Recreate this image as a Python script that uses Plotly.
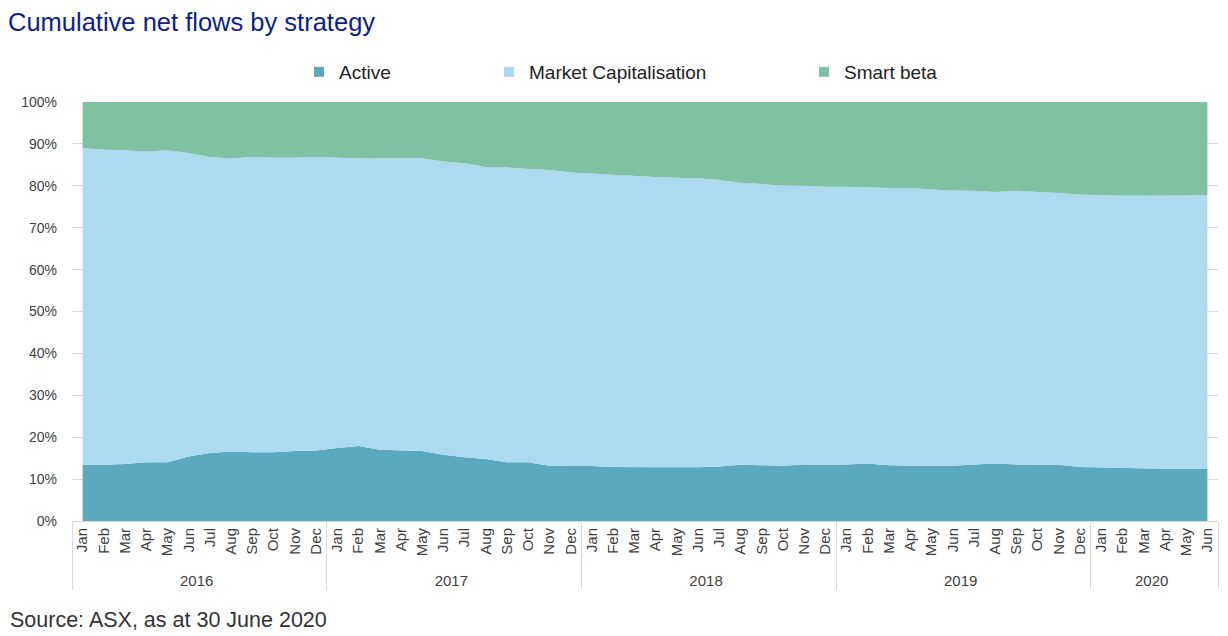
import plotly.graph_objects as go

TITLE = "Cumulative net flows by strategy"
SOURCE = "Source: ASX, as at 30 June 2020"

YEARS = ["2016", "2017", "2018", "2019", "2020"]
MONTHS = ["Jan", "Feb", "Mar", "Apr", "May", "Jun", "Jul", "Aug", "Sep", "Oct", "Nov", "Dec"]
MONTHS_PER_YEAR = [12, 12, 12, 12, 6]

# share of cumulative net flows, %
active = [13.4, 13.4, 13.6, 14.0, 14.0, 15.4, 16.2, 16.6, 16.4, 16.4, 16.7, 16.8,
          17.4, 17.9, 17.0, 16.8, 16.7, 15.8, 15.2, 14.8, 14.0, 14.0, 13.2, 13.1,
          13.1, 12.9, 12.8, 12.8, 12.8, 12.8, 13.0, 13.4, 13.3, 13.2, 13.5, 13.5,
          13.5, 13.7, 13.3, 13.2, 13.2, 13.2, 13.5, 13.7, 13.5, 13.5, 13.4, 12.9,
          12.8, 12.6, 12.5, 12.5, 12.5, 12.5]
market_cap = [75.6, 75.2, 74.9, 74.2, 74.5, 72.4, 70.7, 69.9, 70.5, 70.3, 70.0, 70.1,
              69.3, 68.6, 69.6, 69.8, 69.9, 70.0, 70.2, 69.7, 70.4, 70.0, 70.6, 70.1,
              69.8, 69.7, 69.5, 69.3, 69.1, 69.0, 68.4, 67.3, 67.1, 66.9, 66.5, 66.3,
              66.3, 65.9, 66.2, 66.3, 65.9, 65.7, 65.3, 64.8, 65.3, 65.0, 64.9, 65.0,
              64.9, 65.0, 65.1, 65.1, 65.2, 65.3]
smart_beta = [11.0, 11.4, 11.5, 11.8, 11.5, 12.2, 13.1, 13.5, 13.1, 13.3, 13.3, 13.1,
              13.3, 13.5, 13.4, 13.4, 13.4, 14.2, 14.6, 15.5, 15.6, 16.0, 16.2, 16.8,
              17.1, 17.4, 17.7, 17.9, 18.1, 18.2, 18.6, 19.3, 19.6, 19.9, 20.0, 20.2,
              20.2, 20.4, 20.5, 20.5, 20.9, 21.1, 21.2, 21.5, 21.2, 21.5, 21.7, 22.1,
              22.3, 22.4, 22.4, 22.4, 22.3, 22.2]

SERIES = [
    ("Active", active, "#5aa9bf", "legend"),
    ("Market Capitalisation", market_cap, "#acdaee", "legend2"),
    ("Smart beta", smart_beta, "#7fc1a2", "legend3"),
]

year_level, month_level = [], []
for y, n in zip(YEARS, MONTHS_PER_YEAR):
    for m in MONTHS[:n]:
        year_level.append(y)
        month_level.append(m)
x = [year_level, month_level]

FONT = "Liberation Sans, Arial, sans-serif"
fig = go.Figure()
for name, vals, color, lg in SERIES:
    fig.add_trace(go.Scatter(
        x=x, y=vals, name=name, mode="lines", stackgroup="one",
        line=dict(width=0, color=color), fillcolor=color, showlegend=False,
        hovertemplate="%{y:.1f}%<extra>" + name + "</extra>"))
    # legend entry with square marker
    fig.add_trace(go.Scatter(
        x=[None], y=[None], name=name, mode="markers",
        marker=dict(symbol="square", size=10, color=color),
        legend=lg, showlegend=True))

# figure is placed 8px in from the page's top-left corner
W, H = 1220, 628
L, R, T, B = 64, 10, 94, 115
pw, ph = W - L - R, H - T - B

def px_x(p):
    return (p - L) / pw

def px_y(p):
    return (H - B - p) / ph

legend_common = dict(orientation="h", yanchor="middle", y=px_y(64), xanchor="left",
                     font=dict(family=FONT, size=19, color="#222222"),
                     bgcolor="rgba(0,0,0,0)", itemwidth=30)

fig.update_layout(
    width=W, height=H,
    margin=dict(l=L, r=R, t=T, b=B),
    paper_bgcolor="white", plot_bgcolor="white",
    font=dict(family=FONT, size=14, color="#404040"),
    title=dict(text=TITLE, x=0, xref="container", xanchor="left",
               y=1 - 14 / H, yanchor="middle", yref="container",
               pad=dict(l=0, r=0, t=0, b=0),
               font=dict(family=FONT, size=25.5, color="#0c1f8a")),
    legend=dict(legend_common, x=px_x(291)),
    legend2=dict(legend_common, x=px_x(481)),
    legend3=dict(legend_common, x=px_x(796)),
    xaxis=dict(type="multicategory", tickangle=-90, showgrid=False,
               range=[-0.5, 53.5],
               showline=True, linecolor="#d9d9d9", linewidth=1,
               showdividers=True, dividercolor="#d9d9d9", dividerwidth=1,
               tickfont=dict(family=FONT, size=15, color="#404040"),
               ticks=""),
    yaxis=dict(range=[0, 100], dtick=10, ticksuffix="%", showgrid=True,
               gridcolor="#d9d9d9", gridwidth=1, zeroline=False,
               tickfont=dict(family=FONT, size=14, color="#404040"),
               ticks="", ticklabelstandoff=14),
    annotations=[dict(text=SOURCE, xref="paper", yref="paper",
                      x=px_x(0), y=px_y(612), xanchor="left",
                      yanchor="middle", showarrow=False,
                      font=dict(family=FONT, size=21.5, color="#333333"))],
)

fig.write_html("out.html")
